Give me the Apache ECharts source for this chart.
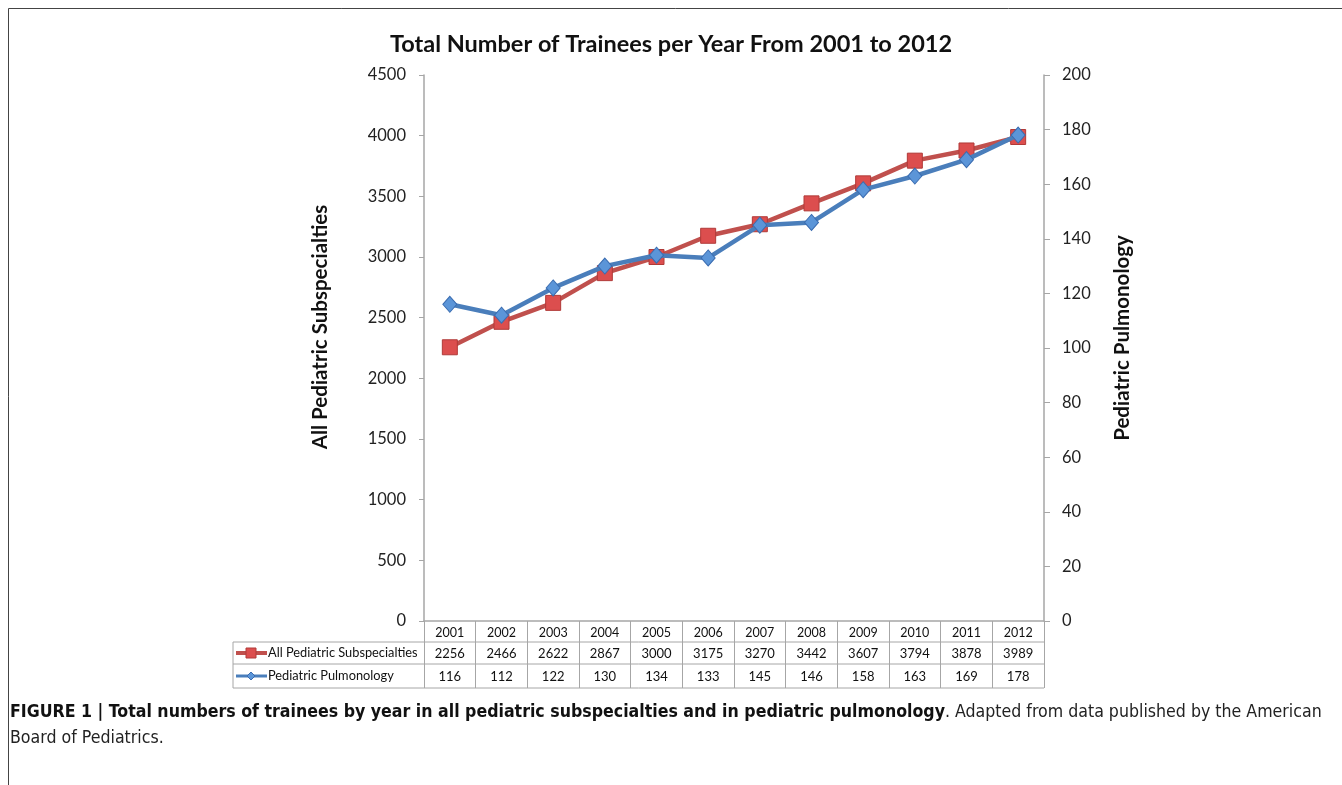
<!DOCTYPE html>
<html>
<head>
<meta charset="utf-8">
<script src="https://cdn.jsdelivr.net/npm/echarts@6/dist/echarts.min.js"></script>
<style>
html,body{margin:0;padding:0;background:#fff;}
#main{width:1342px;height:785px;}
</style>
</head>
<body>
<div id="main"></div>
<script>
const years = ['2001','2002','2003','2004','2005','2006','2007','2008','2009','2010','2011','2012'];
const allSubspecialties = [2256, 2466, 2622, 2867, 3000, 3175, 3270, 3442, 3607, 3794, 3878, 3989];
const pulmonology = [116, 112, 122, 130, 134, 133, 145, 146, 158, 163, 169, 178];
const seriesNames = ['All Pediatric Subspecialties', 'Pediatric Pulmonology'];
const titleText = 'Total Number of Trainees per Year From 2001 to 2012';
const leftAxisName = 'All Pediatric Subspecialties';
const rightAxisName = 'Pediatric Pulmonology';
const captionBold = 'FIGURE 1 | Total numbers of trainees by year in all pediatric subspecialties and in pediatric pulmonology';
const captionRest = '. Adapted from data published by the American';
const captionLine2 = 'Board of Pediatrics.';

const FONT = 'Lato, "Open Sans", sans-serif';
const CAP_FONT = '"Liberation Sans Narrow", "DejaVu Sans Condensed", "Liberation Sans", sans-serif';
const RED = '#c0504d', BLUE = '#4a7ebb', GRID = '#a6a6a6';

const chart = echarts.init(document.getElementById('main'));
const gridL = 424, gridR = 1044, gridT = 75, gridB = 621;
const tableL = 233, r1 = 642, r2 = 664, r3 = 688;

chart.setOption({
  animation: false,
  backgroundColor: '#fff',
  title: {
    text: titleText, left: 'center', top: 27,
    textStyle: {fontFamily: FONT, fontSize: 23.5, fontWeight: 'bold', color: '#111'}
  },
  grid: {left: gridL, right: 1342 - gridR, top: gridT, bottom: 785 - gridB, containLabel: false},
  xAxis: {
    type: 'category', data: years, boundaryGap: true,
    axisLine: {lineStyle: {color: GRID, width: 1.5}},
    axisTick: {show: true, length: r3 - gridB, interval: 0, lineStyle: {color: GRID, width: 1}},
    axisLabel: {
      interval: 0, margin: 1,
      formatter: function (v, i) {
        return '{a|' + v + '}\n{b|' + allSubspecialties[i] + '}\n{c|' + pulmonology[i] + '}';
      },
      rich: {
        a: {fontFamily: FONT, fontSize: 12.5, color: '#111', lineHeight: 21},
        b: {fontFamily: FONT, fontSize: 13, color: '#111', lineHeight: 22},
        c: {fontFamily: FONT, fontSize: 13, color: '#111', lineHeight: 24}
      }
    },
    splitLine: {show: false}
  },
  yAxis: [
    {
      type: 'value', min: 0, max: 4500, interval: 500, position: 'left',
      axisLine: {show: true, lineStyle: {color: GRID, width: 1.5}},
      axisTick: {show: true, length: 5, lineStyle: {color: GRID}},
      axisLabel: {fontFamily: FONT, fontSize: 16.5, color: '#222', margin: 18, formatter: function (v) { return String(v); }},
      splitLine: {show: false}
    },
    {
      type: 'value', min: 0, max: 200, interval: 20, position: 'right',
      axisLine: {show: true, lineStyle: {color: GRID, width: 1.5}},
      axisTick: {show: true, length: 6, lineStyle: {color: GRID}},
      axisLabel: {fontFamily: FONT, fontSize: 16.5, color: '#222', margin: 18, formatter: function (v) { return String(v); }},
      splitLine: {show: false}
    }
  ],
  series: [
    {
      name: seriesNames[0], type: 'line', yAxisIndex: 0, data: allSubspecialties,
      lineStyle: {color: RED, width: 4.5},
      symbol: 'rect', symbolSize: 15,
      itemStyle: {color: '#dc4e4e', borderColor: '#b03a38', borderWidth: 1},
      z: 2
    },
    {
      name: seriesNames[1], type: 'line', yAxisIndex: 1, data: pulmonology,
      lineStyle: {color: BLUE, width: 4.5},
      symbol: 'diamond', symbolSize: [14, 16],
      itemStyle: {color: '#5b95d8', borderColor: '#3a6cb0', borderWidth: 1},
      z: 3
    }
  ],
  graphic: [
    {type: 'line', shape: {x1: 8.5, y1: 8.5, x2: 1342, y2: 8.5}, style: {stroke: '#444', lineWidth: 1}},
    {type: 'line', shape: {x1: 8.5, y1: 8.5, x2: 8.5, y2: 785}, style: {stroke: '#444', lineWidth: 1}},
    {type: 'text', x: 320, y: 327, rotation: Math.PI / 2,
      style: {text: leftAxisName, fontFamily: FONT, fontSize: 20.5, fontWeight: 'bold', fill: '#111', align: 'center', verticalAlign: 'middle'}},
    {type: 'text', x: 1122, y: 338, rotation: Math.PI / 2,
      style: {text: rightAxisName, fontFamily: FONT, fontSize: 20.5, fontWeight: 'bold', fill: '#111', align: 'center', verticalAlign: 'middle'}},
    {type: 'line', shape: {x1: tableL, y1: r1, x2: gridR, y2: r1}, style: {stroke: GRID, lineWidth: 1}},
    {type: 'line', shape: {x1: tableL, y1: r2, x2: gridR, y2: r2}, style: {stroke: GRID, lineWidth: 1}},
    {type: 'line', shape: {x1: tableL, y1: r3, x2: gridR, y2: r3}, style: {stroke: GRID, lineWidth: 1}},
    {type: 'line', shape: {x1: tableL, y1: r1, x2: tableL, y2: r3}, style: {stroke: GRID, lineWidth: 1}},
    {type: 'line', shape: {x1: 236, y1: 653, x2: 267, y2: 653}, style: {stroke: RED, lineWidth: 4}},
    {type: 'rect', shape: {x: 246, y: 648, width: 10, height: 10}, style: {fill: '#dc4e4e', stroke: '#b03a38', lineWidth: 1}},
    {type: 'line', shape: {x1: 236, y1: 676, x2: 267, y2: 676}, style: {stroke: BLUE, lineWidth: 3}},
    {type: 'polygon', shape: {points: [[251, 672], [255, 676], [251, 680], [247, 676]]}, style: {fill: '#5b95d8', stroke: '#3a6cb0', lineWidth: 1}},
    {type: 'text', x: 268, y: 653, style: {text: seriesNames[0], fontFamily: FONT, fontSize: 12.8, fill: '#111', verticalAlign: 'middle'}},
    {type: 'text', x: 268, y: 676, style: {text: seriesNames[1], fontFamily: FONT, fontSize: 12.8, fill: '#111', verticalAlign: 'middle'}},
    {type: 'text', x: 10, y: 712,
      style: {
        text: '{b|' + captionBold + '}{r|' + captionRest + '}',
        verticalAlign: 'middle',
        rich: {
          b: {fontFamily: CAP_FONT, fontSize: 17.6, fontWeight: 'bold', fill: '#111'},
          r: {fontFamily: CAP_FONT, fontSize: 17.6, fill: '#222'}
        }
      }},
    {type: 'text', x: 10, y: 738,
      style: {text: captionLine2, fontFamily: CAP_FONT, fontSize: 17.6, fill: '#222', verticalAlign: 'middle'}}
  ]
});
</script>
</body>
</html>
